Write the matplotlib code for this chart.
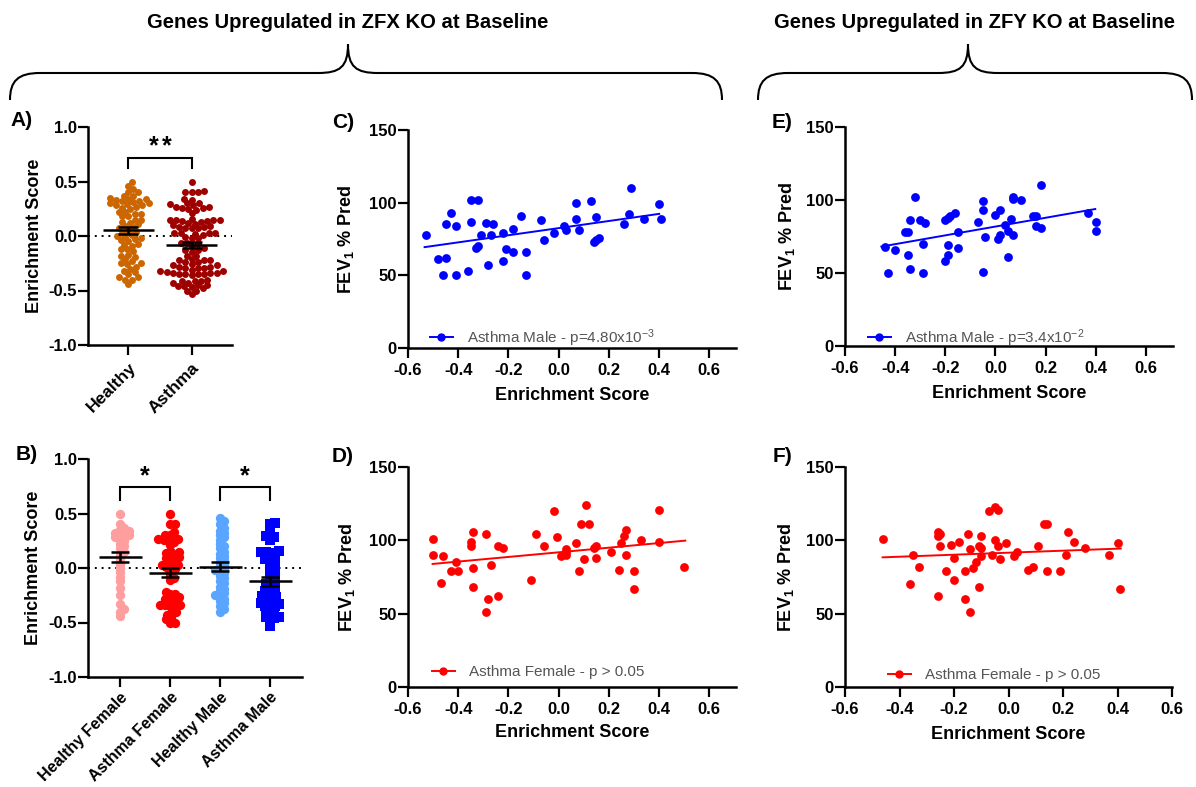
import numpy as np
import matplotlib
matplotlib.use("Agg")
import matplotlib.pyplot as plt
from matplotlib.path import Path
from matplotlib.patches import PathPatch
from matplotlib.lines import Line2D

plt.rcParams['font.family'] = ['Liberation Sans', 'DejaVu Sans']
plt.rcParams['font.weight'] = 'bold'
plt.rcParams['axes.labelweight'] = 'bold'
plt.rcParams['axes.unicode_minus'] = False
plt.rcParams['mathtext.default'] = 'regular'

# ---- data -----------------------------------------------------------------
# ZFX-KO enrichment score vs FEV1 % pred, asthma males (panel C)
zfx_male_es = [-0.53, -0.48, -0.45, -0.46, -0.45, -0.43, -0.41, -0.41, -0.35, -0.35,
               -0.36, -0.33, -0.32, -0.32, -0.31, -0.29, -0.28, -0.27, -0.26, -0.22,
               -0.22, -0.21, -0.18, -0.18, -0.15, -0.13, -0.13, -0.07, -0.06, -0.02,
               0.02, 0.03, 0.07, 0.07, 0.08, 0.13, 0.14, 0.15, 0.15, 0.16,
               0.26, 0.28, 0.29, 0.34, 0.40, 0.41]
zfx_male_fev = [78, 61, 62, 50, 85, 93, 84, 50, 102, 87,
                53, 69, 70, 102, 78, 86, 57, 78, 85, 60,
                79, 68, 82, 66, 91, 50, 66, 88, 74, 79,
                84, 81, 100, 89, 81, 101, 73, 90, 74, 76,
                85, 92, 110, 89, 99, 89]
zfx_male_fit_x = [-0.534, 0.401]
zfx_male_fit_y = [69.4, 92.3]

# ZFX-KO enrichment score, asthma females (panel D)
zfx_female_es = [-0.50, -0.50, -0.47, -0.46, -0.43, -0.41, -0.40, -0.35, -0.35, -0.34,
                 -0.34, -0.34, -0.29, -0.28, -0.29, -0.27, -0.24, -0.24, -0.22, -0.11,
                 -0.09, -0.06, -0.02, -0.005, 0.01, 0.03, 0.03, 0.03, 0.07, 0.08,
                 0.09, 0.10, 0.11, 0.12, 0.14, 0.15, 0.15, 0.21, 0.24, 0.25,
                 0.26, 0.27, 0.27, 0.30, 0.30, 0.33, 0.40, 0.40, 0.50]
zfx_female_fev = [101, 90, 71, 89, 79, 85, 79, 96, 99, 106,
                  81, 68, 104, 60, 51, 83, 96, 62, 95, 73,
                  104, 96, 120, 102, 89, 94, 90, 92, 98, 79,
                  111, 87, 124, 111, 95, 96, 88, 92, 80, 98,
                  103, 90, 107, 67, 79, 100, 99, 121, 82]
zfx_female_fit_x = [-0.502, 0.505]
zfx_female_fit_y = [83.9, 99.8]

# ZFY-KO enrichment score, asthma males (panel E)
zfy_male_es = [-0.44, -0.43, -0.40, -0.36, -0.35, -0.34, -0.35, -0.34, -0.32, -0.30,
               -0.29, -0.29, -0.28, -0.20, -0.19, -0.18, -0.16, -0.20, -0.19, -0.19,
               -0.15, -0.15, -0.07, -0.05, -0.05, -0.05, -0.04, 0.00, 0.01, 0.02,
               0.02, 0.04, 0.05, 0.05, 0.06, 0.07, 0.07, 0.07, 0.10, 0.15,
               0.16, 0.16, 0.18, 0.18, 0.37, 0.40, 0.40]
zfy_male_fev = [68, 50, 66, 78, 78, 86, 62, 53, 102, 86,
                70, 50, 84, 86, 88, 89, 91, 58, 62, 69,
                78, 67, 85, 99, 93, 51, 75, 90, 73, 93,
                76, 83, 79, 61, 87, 76, 102, 101, 100, 89,
                89, 82, 81, 110, 91, 85, 79]
zfy_male_fit_x = [-0.455, 0.398]
zfy_male_fit_y = [68.1, 93.8]

# ZFY-KO enrichment score, asthma females (panel F)
zfy_female_es = [-0.46, -0.36, -0.35, -0.33, -0.26, -0.26, -0.25, -0.25, -0.26, -0.23,
                 -0.21, -0.20, -0.20, -0.18, -0.16, -0.16, -0.15, -0.14, -0.14, -0.13,
                 -0.12, -0.11, -0.11, -0.10, -0.10, -0.10, -0.07, -0.06, -0.05, -0.04,
                 -0.05, -0.04, -0.03, -0.01, 0.02, 0.03, 0.07, 0.09, 0.11, 0.13,
                 0.14, 0.14, 0.19, 0.21, 0.22, 0.24, 0.28, 0.37, 0.40, 0.41]
zfy_female_fev = [101, 70, 90, 82, 106, 103, 104, 96, 62, 79,
                  97, 73, 88, 99, 60, 79, 104, 94, 51, 81,
                  85, 68, 96, 95, 89, 103, 120, 90, 123, 121,
                  100, 96, 87, 98, 89, 92, 80, 82, 96, 111,
                  111, 79, 79, 90, 106, 99, 95, 90, 98, 67]
zfy_female_fit_x = [-0.462, 0.412]
zfy_female_fit_y = [88.4, 94.4]

# ZFX-KO enrichment score in healthy controls
healthy_female_es = [0.50, 0.40, 0.37, 0.35, 0.34, 0.33, 0.32, 0.31, 0.30, 0.29,
                     0.28, 0.27, 0.25, 0.22, 0.20, 0.18, 0.15, 0.12, 0.08, 0.04,
                     0.00, -0.04, -0.08, -0.12, -0.18, -0.25, -0.33, -0.38, -0.40, -0.44]
healthy_male_es = [0.46, 0.43, 0.40, 0.37, 0.34, 0.32, 0.30, 0.28, 0.26, 0.22,
                   0.20, 0.18, 0.15, 0.13, 0.11, 0.09, 0.07, 0.05, 0.03, 0.01,
                   -0.01, -0.02, -0.03, -0.05, -0.07, -0.09, -0.12, -0.14, -0.17, -0.19,
                   -0.21, -0.23, -0.25, -0.26, -0.28, -0.30, -0.32, -0.35, -0.38, -0.40]

group_a_labels = ['Healthy', 'Asthma']
group_a_values = [healthy_female_es + healthy_male_es, zfx_female_es + zfx_male_es]
group_a_colors = ['#CC6600', '#9E0000']

group_b_labels = ['Healthy Female', 'Asthma Female', 'Healthy Male', 'Asthma Male']
group_b_values = [healthy_female_es, zfx_female_es, healthy_male_es, zfx_male_es]
group_b_colors = ['#FF9E9E', '#FF0000', '#5AA5FF', '#0000FF']
group_b_markers = ['o', 'o', 'o', 's']

# ---- layout helpers ---------------------------------------------------------
W, H = 1196, 787


def px_box(left, top, right, bottom):
    return [left / W, 1 - bottom / H, (right - left) / W, (bottom - top) / H]


def style_axes(ax):
    for side in ('top', 'right'):
        ax.spines[side].set_visible(False)
    for side in ('left', 'bottom'):
        ax.spines[side].set_linewidth(1.8)
    ax.tick_params(width=1.6, length=7, labelsize=12)
    ax.tick_params(axis='y', pad=1)
    ax.tick_params(axis='x', pad=4)


def swarm_offsets(values, y_px, x_px, dot):
    """Greedy beeswarm layout, returns horizontal offsets in x data units."""
    vals = np.asarray(values, dtype=float)
    ys = vals * y_px
    placed = []
    offsets = np.zeros(len(vals))
    cands = [0.0]
    for k in range(1, 80):
        cands += [k * dot * 0.3, -k * dot * 0.3]
    for i in np.argsort(vals):
        for c in cands:
            if all((px - c) ** 2 + (py - ys[i]) ** 2 >= dot ** 2 for px, py in placed):
                break
        placed.append((c, ys[i]))
        offsets[i] = c / x_px
    return offsets


def dot_panel(ax, labels, values, colors, markers, size, dot, x_px, half_mean, cap, tick_size):
    for i, (vals, col, mk) in enumerate(zip(values, colors, markers)):
        offs = swarm_offsets(vals, 109, x_px, dot)
        ax.scatter(i + offs, vals, s=size, color=col, marker=mk, linewidths=0, zorder=2)
        arr = np.asarray(vals)
        mean = arr.mean()
        sem = arr.std(ddof=1) / np.sqrt(len(arr))
        ax.hlines(mean, i - half_mean, i + half_mean, color='black', lw=1.8, zorder=4)
        ax.errorbar(i, mean, yerr=sem, fmt='none', ecolor='black', elinewidth=1.8,
                    capsize=cap, capthick=1.8, zorder=4)
    ax.axhline(0, color='black', lw=1.4, ls=(0, (1, 2.5)), zorder=1)
    ax.set_ylim(-1.0, 1.0)
    ax.set_yticks([-1.0, -0.5, 0.0, 0.5, 1.0])
    ax.set_yticklabels(['-1.0', '-0.5', '0.0', '0.5', '1.0'])
    ax.set_xticks(range(len(labels)))
    ax.set_xticklabels(labels, rotation=45, ha='right', rotation_mode='anchor',
                       fontsize=tick_size)
    ax.set_xlim(-0.64, len(labels) - 1 + 0.64)
    ax.set_ylabel('Enrichment Score', fontsize=13, va='center')


def bracket(ax, x0, x1, y_top, y_leg, stars):
    ax.plot([x0, x0, x1, x1], [y_leg, y_top, y_top, y_leg], color='black', lw=1.5,
            solid_joinstyle='miter', clip_on=False)
    xm = (x0 + x1) / 2
    n = len(stars)
    for k in range(n):
        ax.text(xm + (k - (n - 1) / 2) * 0.2, y_top + 0.035, '*', ha='center',
                va='baseline', fontsize=18)


def scatter_panel(ax, xs, ys, fit_x, fit_y, color, label, xmax, legend_at):
    ax.scatter(xs, ys, s=40, color=color, linewidths=0, zorder=2)
    ax.plot(fit_x, fit_y, color=color, lw=1.4, zorder=3)
    ax.set_xlim(-0.6, xmax)
    ax.set_ylim(0, 150)
    ax.set_xticks([-0.6, -0.4, -0.2, 0.0, 0.2, 0.4, 0.6])
    ax.set_xticklabels(['-0.6', '-0.4', '-0.2', '0.0', '0.2', '0.4', '0.6'])
    ax.set_yticks([0, 50, 100, 150])
    ax.set_xlabel('Enrichment Score', fontsize=13, va='center')
    ax.set_ylabel('FEV$_1$ % Pred', fontsize=13, va='center')
    handle = Line2D([], [], color=color, marker='o', markersize=5, lw=1.4)
    ax.legend([handle], [label], loc='center left', bbox_to_anchor=legend_at,
              frameon=False, borderpad=0, borderaxespad=0, handlelength=1.5,
              handletextpad=0.9, labelcolor='#555555',
              prop={'weight': 'normal', 'size': 11})


# ---- figure ------------------------------------------------------------------
fig = plt.figure(figsize=(11.96, 7.87), dpi=100)

overlay = fig.add_axes([0, 0, 1, 1])
overlay.set_xlim(0, W)
overlay.set_ylim(H, 0)
overlay.axis('off')


def brace(x0, x1, xm, y_end, y_bar, y_tip, r=30):
    verts = [(x0, y_end),
             (x0, y_bar + 8), (x0 + 8, y_bar), (x0 + r, y_bar),
             (xm - r, y_bar),
             (xm - 8, y_bar), (xm, y_bar - 6), (xm, y_tip),
             (xm, y_bar - 6), (xm + 8, y_bar), (xm + r, y_bar),
             (x1 - r, y_bar),
             (x1 - 8, y_bar), (x1, y_bar + 8), (x1, y_end)]
    codes = ([Path.MOVETO] + [Path.CURVE4] * 3 + [Path.LINETO] + [Path.CURVE4] * 3
             + [Path.CURVE4] * 3 + [Path.LINETO] + [Path.CURVE4] * 3)
    overlay.add_patch(PathPatch(Path(verts, codes), fill=False, lw=1.5, color='black'))


brace(10, 722, 348, 100, 73, 44)
brace(758, 1192, 968, 100, 73, 44)

overlay.text(348, 22, 'Genes Upregulated in ZFX KO at Baseline', ha='center', va='center',
             fontsize=14.6)
overlay.text(975, 22, 'Genes Upregulated in ZFY KO at Baseline', ha='center', va='center',
             fontsize=14.6)

for tag, (px, py) in zip('ABCDEF', [(22, 120), (27, 455), (343, 122),
                                     (343, 457), (782, 123), (782, 457)]):
    overlay.text(px, py, tag + ')', ha='center', va='center', fontsize=15)

# A) healthy vs asthma
ax_a = fig.add_axes(px_box(88, 127, 232, 345))
style_axes(ax_a)
dot_panel(ax_a, group_a_labels, group_a_values, group_a_colors, ['o', 'o'],
          size=25, dot=5.2, x_px=63, half_mean=0.40, cap=7, tick_size=12.5)
ax_a.yaxis.set_label_coords(-0.375, 0.5)
bracket(ax_a, 0, 1, 0.72, 0.62, '**')

# B) split by sex
ax_b = fig.add_axes(px_box(88, 459, 302, 677))
style_axes(ax_b)
dot_panel(ax_b, group_b_labels, group_b_values, group_b_colors, group_b_markers,
          size=45, dot=4.3, x_px=50, half_mean=0.43, cap=6.5, tick_size=11.5)
ax_b.tick_params(axis='x', pad=2)
ax_b.yaxis.set_label_coords(-0.257, 0.5)
bracket(ax_b, 0, 1, 0.74, 0.62, '*')
bracket(ax_b, 2, 3, 0.74, 0.62, '*')

# C-F) FEV1 correlations
panels = [
    ((408, 130, 736, 348), zfx_male_es, zfx_male_fev, zfx_male_fit_x, zfx_male_fit_y,
     '#0000FF', 'Asthma Male - p=4.80x10$^{-3}$', 0.707, (0.067, 0.046), -0.19, -0.216),
    ((408, 467, 736, 687), zfx_female_es, zfx_female_fev, zfx_female_fit_x, zfx_female_fit_y,
     '#FF0000', 'Asthma Female - p > 0.05', 0.707, (0.073, 0.068), -0.187, -0.209),
    ((845, 127, 1173, 346), zfy_male_es, zfy_male_fev, zfy_male_fit_x, zfy_male_fit_y,
     '#0000FF', 'Asthma Male - p=3.4x10$^{-2}$', 0.708, (0.07, 0.037), -0.177, -0.219),
    ((845, 467, 1172, 687), zfy_female_es, zfy_female_fev, zfy_female_fit_x, zfy_female_fit_y,
     '#FF0000', 'Asthma Female - p > 0.05', 0.6, (0.131, 0.055), -0.18, -0.214),
]
for box, xs, ys, fx, fy, col, lab, xmax, leg, ylab_x, xlab_y in panels:
    ax = fig.add_axes(px_box(*box))
    style_axes(ax)
    scatter_panel(ax, xs, ys, fx, fy, col, lab, xmax, leg)
    ax.yaxis.set_label_coords(ylab_x, 0.5)
    ax.xaxis.set_label_coords(0.5, xlab_y)

fig.savefig('out.png', dpi=100)
